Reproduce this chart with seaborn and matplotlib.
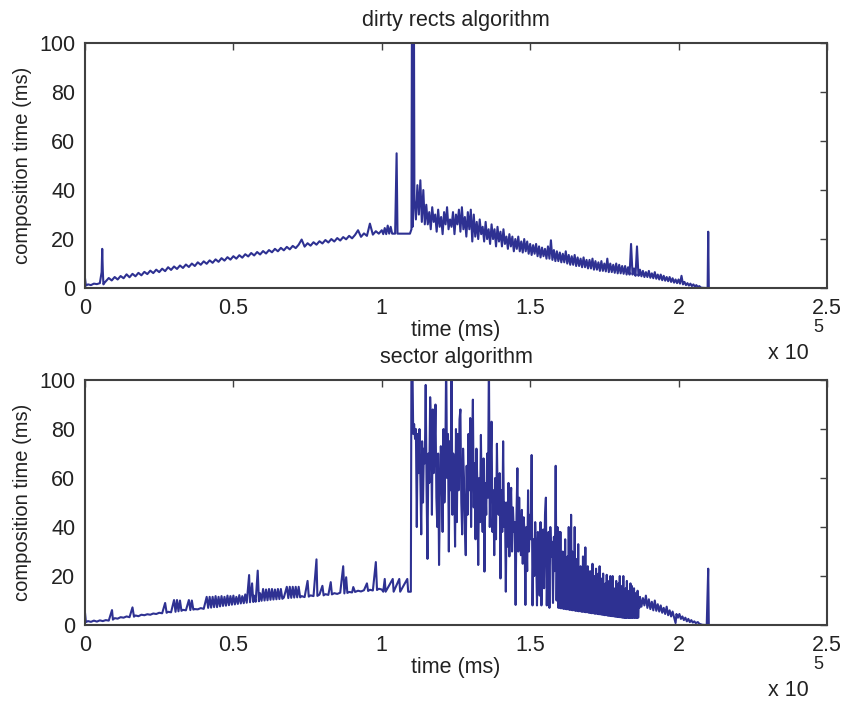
import matplotlib
matplotlib.use("Agg")
import matplotlib.pyplot as plt
import seaborn as sns
import numpy as np

# time in units of 1000 ms, composition time in ms

# dirty rects: start, linear ramp, plateau, burst, decay, tail
rects_start_t = [0, 0.3, 1, 2, 3, 4, 5, 5.6, 5.8, 6.0, 6.2, 6.6]
rects_start_ms = [4, 1, 1.5, 1.2, 1.8, 1.6, 2.0, 6.5, 16, 7, 1.5, 2.2]

rects_ramp_t = np.linspace(8, 100, 93)
rects_ramp_ms = [4.1, 3.1, 4.5, 3.5, 4.9, 4.0, 5.6, 4.4, 5.8, 4.8, 6.2, 5.2, 6.6, 5.7,
                 7.1, 6.1, 7.5, 6.5, 7.9, 6.9, 8.5, 7.4, 8.8, 7.8, 9.2, 8.2, 9.6, 8.6,
                 10.0, 9.0, 10.5, 9.5, 10.9, 9.9, 11.3, 10.3, 11.7, 10.7, 12.2, 11.2,
                 12.6, 11.6, 13.0, 12.0, 13.4, 12.4, 13.8, 12.9, 14.3, 13.3, 14.7, 13.7,
                 15.1, 14.1, 15.5, 14.6, 16.0, 15.0, 16.4, 15.4, 16.8, 15.8, 17.2, 16.3,
                 17.7, 19.8, 16.9, 18.3, 17.3, 18.7, 17.7, 19.1, 18.2, 19.6, 18.6, 20.0,
                 19.0, 20.4, 19.4, 20.8, 19.9, 21.3, 20.3, 21.7, 23.6, 20.9, 22.3, 21.3,
                 26.3, 21.8, 23.2, 22.2, 23.6]

rects_plateau_t = [100.5, 101, 101.5, 102, 102.5, 103, 103.5, 104.5, 105, 105.3, 108,
                   109.5, 110, 110.2, 110.4, 110.8, 111, 111.5, 112, 112.5, 113, 113.5,
                   114, 114.5]
rects_plateau_ms = [22, 24.5, 22, 25.5, 22.2, 25, 22.2, 22.2, 55, 22.2, 22.2,
                    22.2, 24, 130, 25, 130, 36, 28, 42, 30, 44, 27,
                    40, 26]

rects_decay_t = np.linspace(115, 208, 187)
rects_decay_ms = [34, 26, 31, 24, 33, 27, 30, 23, 32, 25,
                  29, 22, 31, 26, 33, 24, 28, 25, 31, 22,
                  30, 26, 32, 23, 33, 24, 29, 21, 31, 24,
                  32, 19, 30, 21, 27, 20, 28, 22, 25, 19,
                  27, 20, 24, 18, 26, 20, 24, 17, 25, 19,
                  23, 17, 24, 18, 21, 16, 22, 17, 21, 15,
                  20, 16, 21, 15, 19, 14.5, 20, 15, 19, 14,
                  18, 13.5, 17.5, 14, 18, 13, 17, 12.5, 16.5, 13,
                  16, 12, 17, 12, 19.5, 11.5, 15.5, 11, 15, 11,
                  14.5, 10.5, 14, 10.5, 15, 10, 13.5, 9.5, 13, 9.5,
                  13.5, 9, 12.5, 9, 12, 8.5, 12.5, 8.5, 11.5, 8,
                  11.5, 8, 12, 7.5, 11, 7.5, 10.5, 7, 11, 7,
                  10, 6.8, 12, 6.5, 10, 6.5, 9.5, 6.2, 10, 6,
                  9.5, 6, 9, 5.8, 9, 5.5, 8.5, 5.5, 18, 5.5,
                  8, 5, 17, 5, 7.5, 4.8, 7, 4.5, 6.5, 4.5,
                  7, 4.2, 6, 4, 6.5, 3.8, 5.5, 3.5, 5.5, 3.2,
                  5, 3, 4.5, 2.8, 4.5, 2.5, 4, 2.2, 3.5, 2,
                  3.5, 1.8, 5, 1.5, 2.5, 1.2, 2, 1, 1.8, 0.8,
                  1.5, 0.6, 1.2, 0.4, 0.8, 0.2, 0.1]

rects_tail_t = [209.5, 209.8, 210, 210.2, 222]
rects_tail_ms = [0, 0, 23, 0, 0]

# sector: start, ramp with frequent spikes, plateau, chaotic burst, dense band, tail
sector_start_t = [0, 0.3, 1, 2, 3, 4, 5, 6, 7, 8, 9.1, 9.4]
sector_start_ms = [5, 1.2, 1.6, 1.3, 1.8, 1.4, 1.9, 1.6, 2.0, 1.8, 6.1, 2.2]

sector_ramp_t = [10, 11, 12, 13, 14, 15, 16, 16.5, 17, 18, 19, 20, 21, 22, 23, 24, 25, 26,
                 27, 27.5, 28, 29, 30, 30.5, 31, 31.5, 32, 32.5, 33, 34, 35, 35.5, 36, 36.5,
                 37, 38, 39, 40, 41, 41.5, 42, 42.5, 43, 43.5, 44, 44.5, 45, 45.5, 46, 46.5,
                 47, 47.5, 48, 48.5, 49, 49.5, 50, 50.5, 51, 51.5, 52, 52.5, 53, 53.5, 54,
                 54.5, 55.3, 55.6, 56.3, 56.7, 57, 57.5, 58.2, 58.6, 59, 59.5, 60, 60.5, 61,
                 61.5, 62, 62.5, 63, 63.5, 64, 64.5, 65, 65.5, 66, 66.5, 67, 68, 68.5, 69,
                 69.5, 70, 70.5, 71, 71.5, 72, 72.5, 73, 74, 75, 75.4, 76, 77, 78, 78.3, 79,
                 80, 80.4, 81, 82, 82.8, 83.2, 84, 85, 86, 87, 87.4, 88, 88.4, 89, 90, 90.4,
                 91, 92, 93, 94, 95, 95.4, 96, 97, 98, 98.4, 99, 100]
sector_ramp_ms = [2.8, 2.6, 3.2, 3.0, 3.5, 3.2, 7.2, 3.4, 3.9, 3.6, 4.2, 4.0, 4.4, 4.2, 4.7,
                  4.5, 5.0, 4.8, 9.0, 5.0, 5.4, 5.2, 10.2, 5.4, 10.2, 5.6, 10.0, 5.8, 6.2,
                  6.0, 10.2, 6.1, 10.0, 6.3, 6.5, 6.4, 6.9, 6.6, 11.5, 7.0, 11.5, 7.1, 11.5,
                  7.3, 11.8, 7.3, 11.5, 7.6, 11.8, 7.8, 11.5, 7.9, 12.0, 8.1, 11.8, 8.3,
                  12.0, 8.4, 11.5, 8.6, 12.2, 8.8, 11.8, 8.9, 12.5, 9.1, 20.4, 9.3, 17, 9.4,
                  12, 9.5, 22.2, 9.7, 13, 9.9, 14.7, 10.0, 14.5, 10.1, 14.7, 10.3, 14.7,
                  10.4, 14.5, 10.5, 14.7, 10.6, 14.7, 10.7, 11.2, 15.6, 11.0, 15.6, 11.1,
                  15.6, 11.2, 15.6, 11.3, 15.6, 11.3, 11.8, 11.4, 18, 11.6, 12.1, 11.8,
                  26.8, 11.9, 12.4, 16, 12.1, 12.6, 12.3, 17.5, 12.5, 13.0, 12.7, 13.2, 24,
                  12.9, 19.5, 13.1, 13.5, 13.3, 15.5, 13.5, 14.0, 13.7, 14.2, 17, 13.9,
                  14.4, 14.1, 25.7, 14.3, 14.8, 14.5]

sector_plateau_t = [100.5, 101, 101.3, 103.7, 104, 105.9, 106.2, 108.6, 108.9, 109.8]
sector_plateau_ms = [13.6, 18.8, 13.6, 18.8, 13.6, 18.8, 13.6, 18.8, 13.6, 13.6]

sector_burst_t = np.linspace(110, 159.8, 167)
sector_burst_ms = [110, 110, 78, 82, 76, 80, 40, 78, 62, 80,
                   60, 37, 75, 50, 72, 66, 98, 55, 27, 70,
                   58, 93, 82, 45, 88, 62, 70, 90, 52, 40,
                   70, 24.5, 55, 73, 60, 38, 80, 50, 65, 110,
                   60, 78, 30, 75, 55, 110, 45, 70, 60, 32,
                   80, 42, 78, 55, 84, 88, 50, 37, 72, 60,
                   40, 28.5, 65, 45, 78, 55, 84.5, 40, 70, 92,
                   48, 66, 35, 72, 58, 24.5, 60, 42, 77.6, 50,
                   38, 68, 21.8, 58, 45, 70, 52, 110, 40, 66,
                   83, 38, 55, 28.5, 60, 35, 74, 48, 45, 62,
                   19, 55, 38, 75, 40, 50, 13.6, 50, 32, 58,
                   28, 48, 56, 30, 48, 38, 42, 8.2, 45, 64,
                   30, 52, 35, 28.5, 47, 25, 44, 38, 8.2, 40,
                   22, 55, 30, 45, 35, 69.4, 8, 35, 20, 42,
                   30, 8, 38, 35, 12, 42, 8, 30, 39, 15,
                   45, 52, 8, 30, 38, 7, 40, 28, 34, 9,
                   36, 22, 65, 10, 40, 7, 38]

# dense band 160k-187k: floor values and peak values, alternating every 200 ms
sector_band_t = np.linspace(160, 186.8, 135)
sector_band_floor = [7, 6.8, 6.9, 6.6, 6.7, 6.5, 6.4, 6.5, 6.2, 6.3,
                     6.1, 6.0, 6.1, 5.8, 5.9, 5.7, 5.6, 5.7, 5.5, 5.4,
                     5.5, 5.3, 5.2, 5.3, 5.1, 5.0, 5.0, 4.8, 4.9, 4.7,
                     4.6, 4.7, 4.5, 4.4, 4.4, 4.3, 4.2, 4.2, 4.0, 4.1,
                     3.9, 3.8, 3.8, 3.7, 3.6, 3.6, 3.5, 3.4, 3.4, 3.3,
                     3.2, 3.2, 3.1, 3.0, 3.0, 2.9, 2.9, 3.0, 2.9, 2.9,
                     3.0, 2.9, 3.0, 2.9, 3.0, 2.9, 3.0, 7]
sector_band_peak = [38, 25, 30, 18, 35, 22, 28, 40, 20, 45,
                    30, 24, 40, 18, 27, 33, 22, 24, 15, 28,
                    22, 31.7, 17, 24, 20, 22, 14, 25, 19, 20,
                    23, 16, 21, 24, 14, 19, 21, 12, 17, 20.5,
                    18, 13, 20, 16, 20, 11, 15, 18, 12, 17,
                    20, 14, 16, 20, 12, 15, 18, 11, 14, 17,
                    16, 12, 15, 13, 11, 14, 9]

sector_tail_t = [187.0, 187.5, 188.0, 188.5, 189.0, 189.5, 190.0, 190.5, 191.0, 191.5,
                 192.0, 192.5, 193.0, 193.5, 194.0, 194.5, 195.0, 195.5, 196.0, 196.5,
                 197.0, 197.5, 198.0, 198.5, 199.0, 199.3, 199.8, 200.3, 200.8, 201.3,
                 201.8, 202.3, 202.8, 203.3, 203.8, 204.3, 204.8, 205.3, 205.8, 206.5,
                 207.0, 207.5, 208.0, 209.5, 210.0, 210.2, 217.5]
sector_tail_ms = [11.5, 7.5, 11, 8, 12, 7, 10.5, 6.5, 9.5, 6,
                  10, 5.8, 8.5, 5.5, 8, 5, 7, 4.5, 7.5, 4,
                  6, 3.5, 5.5, 3.2, 0.8, 4.5, 3, 4.5, 2.5, 3.5,
                  2, 3, 1.5, 2.5, 1.2, 2, 1, 1.5, 0.8, 1.2,
                  0.5, 0.3, 0.1, 0, 23, 0, 0]

xtick_pos = [0, 50, 100, 150, 200, 250]
xtick_labels = ["0", "0.5", "1", "1.5", "2", "2.5"]
ytick_pos = [0, 20, 40, 60, 80, 100]

# interleave floor and peak readings of the dense band
sector_band_ms = np.empty(len(sector_band_t))
sector_band_ms[0::2] = sector_band_floor
sector_band_ms[1::2] = sector_band_peak

panels = [
    ("dirty rects algorithm",
     [rects_start_t, rects_ramp_t, rects_plateau_t, rects_decay_t, rects_tail_t],
     [rects_start_ms, rects_ramp_ms, rects_plateau_ms, rects_decay_ms, rects_tail_ms]),
    ("sector algorithm",
     [sector_start_t, sector_ramp_t, sector_plateau_t, sector_burst_t, sector_band_t, sector_tail_t],
     [sector_start_ms, sector_ramp_ms, sector_plateau_ms, sector_burst_ms, sector_band_ms, sector_tail_ms]),
]

sns.set_style("white")
plt.rcParams["font.family"] = ["Liberation Sans Narrow", "Liberation Sans", "DejaVu Sans"]

line_color = "#2e3192"
edge_color = "#404040"
text_color = "#222222"

fig = plt.figure(figsize=(8.45, 7.06), dpi=100)
ax_top = fig.add_axes([0.1006, 0.592, 0.878, 0.347])
ax_bot = fig.add_axes([0.1006, 0.1147, 0.878, 0.347])

for ax, (title, t_parts, ms_parts) in zip([ax_top, ax_bot], panels):
    t = np.concatenate([np.asarray(p, dtype=float) for p in t_parts])
    ms = np.concatenate([np.asarray(p, dtype=float) for p in ms_parts])
    sns.lineplot(x=t, y=ms, ax=ax, color=line_color, linewidth=1.5,
                 estimator=None, sort=False)
    ax.set_xlim(0, 250)
    ax.set_ylim(0, 100)
    ax.set_xticks(xtick_pos)
    ax.set_xticklabels(xtick_labels)
    ax.set_yticks(ytick_pos)
    ax.tick_params(direction="in", top=True, right=True, length=5, width=1,
                   color=edge_color, labelsize=15.5, labelcolor=text_color, pad=7)
    for s in ax.spines.values():
        s.set_color(edge_color)
        s.set_linewidth(1.5)
    ax.set_xlabel("time (ms)", fontsize=15.5, color=text_color, labelpad=1)
    ax.set_ylabel("composition time (ms)", fontsize=14.5, color=text_color, labelpad=5)
    ax.set_title(title, fontsize=15.5, color=text_color, pad=12)
    ax.text(0.975, -0.29, "x 10", transform=ax.transAxes, ha="right",
            va="baseline", fontsize=15.5, color=text_color)
    ax.text(0.988, -0.16, "5", transform=ax.transAxes, ha="center",
            va="center", fontsize=13, color=text_color)

fig.savefig("out.png", dpi=100, facecolor="white")
